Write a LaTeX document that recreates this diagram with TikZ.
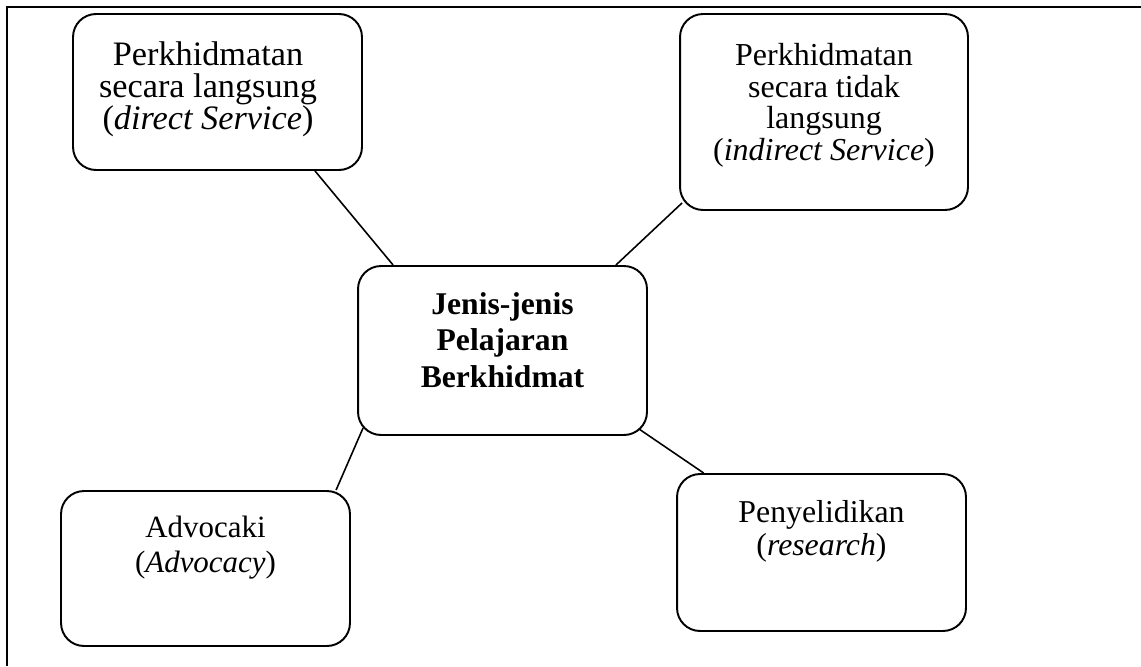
\documentclass[tikz,border=0pt]{standalone}
\usepackage{fontspec}
\setmainfont{Liberation Serif}
\usetikzlibrary{calc}

\tikzset{
  kotak/.style={draw, line width=1.1pt, rounded corners=0.46cm, inner sep=0pt},
  teks/.style={anchor=north, align=center, inner sep=0pt},
  garis/.style={line width=0.9pt}
}

\begin{document}
\begin{tikzpicture}[x=0.02cm, y=-0.02cm]
  \useasboundingbox (0,0) rectangle (1141,666);
  % frame
  \draw[line width=0.8pt] (1141,7) -- (7,7) -- (7,666);

  % boxes
  \node[kotak, minimum width=5.78cm, minimum height=3.12cm] (langsung) at (217.5,92) {};
  \node[kotak, minimum width=5.76cm, minimum height=3.92cm] (tidaklangsung) at (824,112) {};
  \node[kotak, minimum width=5.78cm, minimum height=3.38cm] (hub) at (502.5,350.5) {};
  \node[kotak, minimum width=5.78cm, minimum height=3.10cm] (advokasi) at (205.5,568.5) {};
  \node[kotak, minimum width=5.78cm, minimum height=3.14cm] (penyelidikan) at (821.5,552.5) {};

  % texts
  \node[teks, font=\fontsize{19.5}{18.1}\selectfont]
    (langsungteks) at ([xshift=-0.19cm, yshift=-16.4pt]langsung.north)
    {Perkhidmatan\\secara langsung\\(\textit{direct Service})};
  \node[teks, font=\fontsize{18.2}{18}\selectfont]
    (tidaklangsungteks) at ([yshift=-17pt]tidaklangsung.north)
    {Perkhidmatan\\secara tidak\\langsung\\(\textit{indirect Service})};
  \node[teks, font=\fontsize{18}{20.8}\selectfont\bfseries]
    (hubteks) at ([yshift=-15.3pt]hub.north)
    {Jenis-jenis\\Pelajaran\\Berkhidmat};
  \node[teks, font=\fontsize{17.6}{19.8}\selectfont]
    (advokasiteks) at ([yshift=-14.7pt]advokasi.north)
    {Advocaki\\(\textit{Advocacy})};
  \node[teks, font=\fontsize{18.1}{18.7}\selectfont]
    (penyelidikanteks) at ([yshift=-15.3pt]penyelidikan.north)
    {Penyelidikan\\(\textit{research})};

  % connector ends on the rounded corners
  \coordinate (sudut2) at ($(tidaklangsung.south west)+(3,-8)$);
  \coordinate (hubsw) at ($(hub.south west)+(6,-8)$);
  \coordinate (hubse) at ($(hub.south east)+(-9,-7)$);

  \begin{scope}[garis]
    \draw (langsung.-39) -- (hub.142);
    \draw (hub.37) -- (sudut2);
    \draw (hubsw) -- (advokasi.31);
    \draw (hubse) -- (penyelidikan.146);
  \end{scope}
\end{tikzpicture}
\end{document}
